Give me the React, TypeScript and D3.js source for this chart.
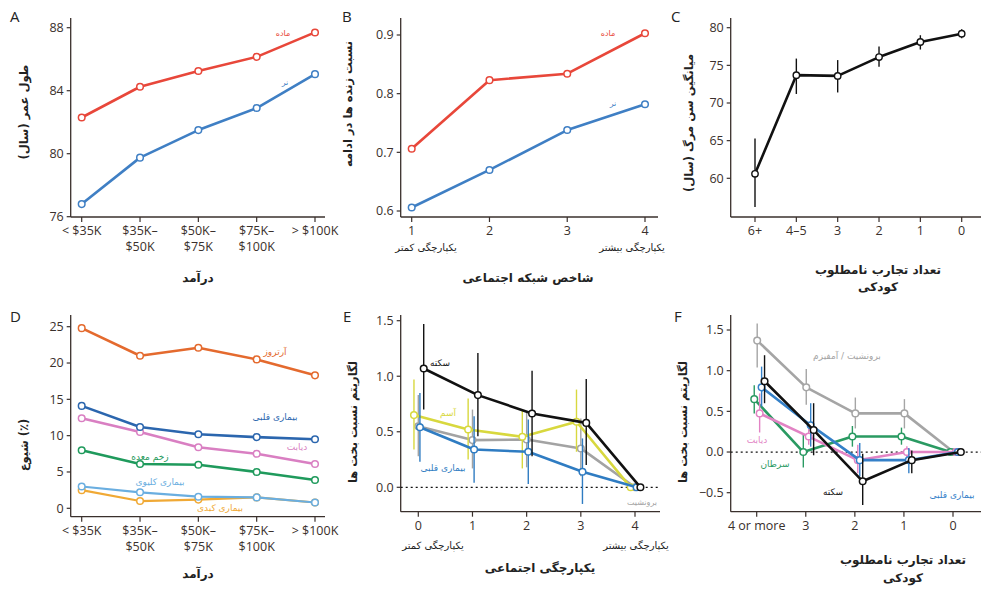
import React from 'react';
import * as d3 from 'd3';

// ---------- DATA ----------
const incomeLabels = [["< $35K"], ["$35K–", "$50K"], ["$50K–", "$75K"], ["$75K–", "$100K"], ["> $100K"]];
const lifeFemale = [82.3, 84.25, 85.25, 86.15, 87.7];
const lifeMale = [76.8, 79.75, 81.5, 82.9, 85.05];

const networkTicks = ["1", "2", "3", "4"];
const survFemale = [0.706, 0.823, 0.834, 0.903];
const survMale = [0.606, 0.670, 0.738, 0.782];

const aceLabelsC = ["6+", "4–5", "3", "2", "1", "0"];
const ageDeath = [60.6, 73.7, 73.6, 76.1, 78.1, 79.2];
const ageLo = [56.2, 71.2, 71.4, 74.8, 77.1, 78.6];
const ageHi = [65.3, 75.9, 75.7, 77.5, 79.0, 79.8];

const prevArthritis = [24.8, 21.0, 22.1, 20.5, 18.3];
const prevHeart = [14.1, 11.2, 10.2, 9.8, 9.5];
const prevDiabetes = [12.4, 10.5, 8.4, 7.5, 6.1];
const prevUlcer = [8.0, 6.1, 6.0, 5.0, 3.9];
const prevKidney = [3.0, 2.2, 1.6, 1.5, 0.8];
const prevLiver = [2.5, 1.0, 1.2, 1.5, 0.8];

const integrationTicks = ["0", "1", "2", "3", "4"];
const eStroke = [1.07, 0.83, 0.665, 0.58, 0];
const eStrokeLo = [0.70, 0.46, 0.28, 0.20];
const eStrokeHi = [1.47, 1.21, 1.05, 0.975];
const eAsthma = [0.65, 0.52, 0.455, 0.59, 0];
const eAsthmaLo = [0.34, 0.25, 0.17, 0.32];
const eAsthmaHi = [0.97, 0.80, 0.70, 0.88];
const eBronch = [0.55, 0.425, 0.43, 0.35, 0];
const eBronchLo = [0.28, 0.17, 0.18, 0.10];
const eBronchHi = [0.83, 0.70, 0.68, 0.62];
const eHeart = [0.54, 0.34, 0.32, 0.14, 0];
const eHeartLo = [0.23, 0.04, 0.03, -0.15];
const eHeartHi = [0.85, 0.64, 0.61, 0.44];

const aceLabelsF = ["4 or more", "3", "2", "1", "0"];
const fBronch = [1.37, 0.795, 0.475, 0.475, 0];
const fBronchLo = [1.04, 0.58, 0.29, 0.29];
const fBronchHi = [1.58, 1.02, 0.67, 0.65];
const fCancer = [0.65, 0.0, 0.19, 0.19, 0];
const fCancerLo = [0.475, -0.19, 0.066, 0.09];
const fCancerHi = [0.82, 0.22, 0.32, 0.30];
const fDiabetes = [0.475, 0.19, -0.1, 0.0, 0];
const fDiabetesLo = [0.24, 0.09, -0.26, -0.08];
const fDiabetesHi = [0.72, 0.29, 0.09, 0.07];
const fHeart = [0.795, 0.33, -0.1, -0.1, 0];
const fHeartLo = [0.56, 0.066, -0.3, -0.26];
const fHeartHi = [1.05, 0.60, 0.11, 0.05];
const fStroke = [0.87, 0.27, -0.36, -0.1, 0];
const fStrokeLo = [0.60, -0.04, -0.65, -0.26];
const fStrokeHi = [1.19, 0.60, -0.02, 0.02];

// ---------- STYLE ----------
const AX = '#3a302c';
const NUM_FONT = "'Open Sans', 'Liberation Sans', sans-serif";
const FA_FONT = "'DejaVu Sans', sans-serif";

type Ser = { y: number[]; lo?: number[]; hi?: number[]; color: string; dx?: number; lw?: number; ew?: number };

function YAxis({ scale, ticks, x, top, bottom, fmt }: any) {
  return (
    <g>
      <line x1={x} x2={x} y1={top} y2={bottom} stroke={AX} strokeWidth={1.3} />
      {ticks.map((t: number) => (
        <g key={t}>
          <line x1={x - 4} x2={x} y1={scale(t)} y2={scale(t)} stroke={AX} strokeWidth={1.2} />
          <text x={x - 7} y={scale(t) + 4.3} textAnchor="end" fontSize={12.5} fontFamily={NUM_FONT} fill={AX}>{fmt(t)}</text>
        </g>
      ))}
    </g>
  );
}

function XAxis({ scale, labels, y, left, right }: any) {
  return (
    <g>
      <line x1={left} x2={right} y1={y} y2={y} stroke={AX} strokeWidth={1.3} />
      {labels.map((lab: string[] | string, i: number) => {
        const lines = Array.isArray(lab) ? lab : [lab];
        return (
          <g key={i}>
            <line x1={scale(i)} x2={scale(i)} y1={y} y2={y + 5} stroke={AX} strokeWidth={1.2} />
            {lines.map((s, k) => (
              <text key={k} x={scale(i)} y={y + 18 + k * 16} textAnchor="middle" fontSize={12.5} fontFamily={NUM_FONT} fill={AX}>{s}</text>
            ))}
          </g>
        );
      })}
    </g>
  );
}

function Series({ s, xs, ys }: { s: Ser; xs: any; ys: any }) {
  const dx = s.dx || 0;
  const line = d3.line<number>().x((_, i) => xs(i + dx)).y(d => ys(d));
  return (
    <g>
      {s.lo && s.hi && s.lo.map((lo, i) => (
        <line key={'e' + i} x1={xs(i + dx)} x2={xs(i + dx)} y1={ys(lo)} y2={ys(s.hi![i])} stroke={s.color} strokeWidth={s.ew || 1.4} />
      ))}
      <path d={line(s.y) || ''} fill="none" stroke={s.color} strokeWidth={s.lw || 2.6} strokeLinejoin="round" />
      {s.y.map((v, i) => (
        <circle key={i} cx={xs(i + dx)} cy={ys(v)} r={3.3} fill="#fff" stroke={s.color} strokeWidth={1.5} />
      ))}
    </g>
  );
}

function Label({ x, y, text, color, size = 9 }: any) {
  return <text x={x} y={y} textAnchor="middle" fontSize={size} fontFamily={FA_FONT} fill={color}>{text}</text>;
}

function Title({ x, y, text, size = 12 }: any) {
  return <text x={x} y={y} textAnchor="middle" fontSize={size} fontWeight="bold" fontFamily={FA_FONT} fill="#222">{text}</text>;
}

function YTitle({ x, y, text }: any) {
  return <text transform={`translate(${x},${y}) rotate(-90)`} textAnchor="middle" fontSize={11.5} fontWeight="bold" fontFamily={FA_FONT} fill="#222">{text}</text>;
}

function Letter({ x, y, t }: any) {
  return <text x={x} y={y} fontSize={15} fontFamily={NUM_FONT} fill="#222">{t}</text>;
}

export default function App() {
  // Panel A
  const xA = d3.scaleLinear().domain([0, 4]).range([81.7, 315]);
  const yA = d3.scaleLinear().domain([76, 88]).range([216.7, 27.7]);
  // Panel B
  const xB = d3.scaleLinear().domain([0, 3]).range([411.7, 645]);
  const yB = d3.scaleLinear().domain([0.6, 0.9]).range([211, 35]);
  // Panel C
  const xC = d3.scaleLinear().domain([0, 5]).range([755, 961.7]);
  const yC = d3.scaleLinear().domain([60, 80]).range([178.3, 27.7]);
  // Panel D
  const xD = d3.scaleLinear().domain([0, 4]).range([81.7, 315]);
  const yD = d3.scaleLinear().domain([0, 25]).range([508.3, 326.7]);
  // Panel E
  const xE = d3.scaleLinear().domain([0, 4]).range([418.3, 635]);
  const yE = d3.scaleLinear().domain([0, 1.5]).range([487.3, 320.7]);
  // Panel F
  const xF = d3.scaleLinear().domain([0, 4]).range([756.7, 953]);
  const yF = d3.scaleLinear().domain([-0.5, 1.5]).range([492.7, 330]);

  const RED = '#e8473a', BLUE = '#3f7fc4';

  const dSeries: Ser[] = [
    { y: prevArthritis, color: '#e46a2e' },
    { y: prevLiver, color: '#f0a935', lw: 2.2 },
    { y: prevKidney, color: '#6aaee0', lw: 2.2 },
    { y: prevUlcer, color: '#1f9a5c' },
    { y: prevDiabetes, color: '#d97fc2' },
    { y: prevHeart, color: '#2b66ae' },
  ];

  const eSeries: Ser[] = [
    { y: eBronch, lo: eBronchLo, hi: eBronchHi, color: '#a3a3a3', dx: 0 },
    { y: eAsthma, lo: eAsthmaLo, hi: eAsthmaHi, color: '#d8d83e', dx: -0.08 },
    { y: eHeart, lo: eHeartLo, hi: eHeartHi, color: '#2f7cc2', dx: 0.03 },
    { y: eStroke, lo: eStrokeLo, hi: eStrokeHi, color: '#111', dx: 0.1 },
  ];

  const fSeries: Ser[] = [
    { y: fBronch, lo: fBronchLo, hi: fBronchHi, color: '#a5a5a5', dx: 0.01 },
    { y: fCancer, lo: fCancerLo, hi: fCancerHi, color: '#2a9a62', dx: -0.05 },
    { y: fDiabetes, lo: fDiabetesLo, hi: fDiabetesHi, color: '#e283c4', dx: 0.06 },
    { y: fHeart, lo: fHeartLo, hi: fHeartHi, color: '#3480c8', dx: 0.1 },
    { y: fStroke, lo: fStrokeLo, hi: fStrokeHi, color: '#111', dx: 0.16 },
  ];

  const lineC = d3.line<number>().x((_, i) => xC(i)).y(d => yC(d));

  return (
    <svg width={981} height={592} style={{ position: 'absolute', left: 0, top: 0, background: '#fff' }}>
      <rect width={981} height={592} fill="#fff" />

      {/* Panel A */}
      <Letter x={10} y={22} t="A" />
      <YAxis scale={yA} ticks={[76, 80, 84, 88]} x={70.7} top={18} bottom={217} fmt={(d: number) => d} />
      <XAxis scale={xA} labels={incomeLabels} y={217} left={70.7} right={325} />
      <Series s={{ y: lifeFemale, color: RED }} xs={xA} ys={yA} />
      <Series s={{ y: lifeMale, color: BLUE }} xs={xA} ys={yA} />
      <Label x={283} y={36} text="ماده" color={RED} size={8} />
      <Label x={285} y={85} text="نر" color={BLUE} size={8} />
      <YTitle x={28} y={112} text="طول عمر (سال)" />
      <Title x={198} y={282} text="درآمد" />

      {/* Panel B */}
      <Letter x={342} y={22} t="B" />
      <YAxis scale={yB} ticks={[0.6, 0.7, 0.8, 0.9]} x={400.7} top={18} bottom={217} fmt={d3.format('.1f')} />
      <XAxis scale={xB} labels={networkTicks} y={217} left={400.7} right={658} />
      <Series s={{ y: survFemale, color: RED }} xs={xB} ys={yB} />
      <Series s={{ y: survMale, color: BLUE }} xs={xB} ys={yB} />
      <Label x={608} y={36} text="ماده" color={RED} size={8} />
      <Label x={613} y={106} text="نر" color={BLUE} size={8} />
      <text x={426} y={251} textAnchor="middle" fontSize={10} fontFamily={FA_FONT} fill="#222">یکپارچگی کمتر</text>
      <text x={632} y={251} textAnchor="middle" fontSize={10} fontFamily={FA_FONT} fill="#222">یکپارچگی بیشتر</text>
      <YTitle x={352} y={104} text="نسبت زنده ها در ادامه" />
      <Title x={528} y={282} text="شاخص شبکه اجتماعی" />

      {/* Panel C */}
      <Letter x={671} y={22} t="C" />
      <YAxis scale={yC} ticks={[60, 65, 70, 75, 80]} x={730.7} top={18} bottom={217} fmt={(d: number) => d} />
      <XAxis scale={xC} labels={aceLabelsC} y={217} left={730.7} right={981} />
      {ageLo.map((lo, i) => (
        <line key={i} x1={xC(i)} x2={xC(i)} y1={yC(lo)} y2={yC(ageHi[i])} stroke="#111" strokeWidth={1.4} />
      ))}
      <path d={lineC(ageDeath) || ''} fill="none" stroke="#111" strokeWidth={2.6} strokeLinejoin="round" />
      {ageDeath.map((v, i) => (
        <circle key={i} cx={xC(i)} cy={yC(v)} r={3.2} fill="#fff" stroke="#111" strokeWidth={1.4} />
      ))}
      <YTitle x={693} y={123} text="میانگین سن مرگ (سال)" />
      <Title x={878} y={274} text="تعداد تجارب نامطلوب" />
      <Title x={878} y={291} text="کودکی" />

      {/* Panel D */}
      <Letter x={10} y={322} t="D" />
      <YAxis scale={yD} ticks={[0, 5, 10, 15, 20, 25]} x={70.7} top={315} bottom={516.7} fmt={(d: number) => d} />
      <XAxis scale={xD} labels={incomeLabels} y={516.7} left={70.7} right={325} />
      {dSeries.map((s, i) => <Series key={i} s={s} xs={xD} ys={yD} />)}
      <Label x={275} y={355} text="آرتروز" color="#e46a2e" />
      <Label x={275} y={420} text="بیماری قلبی" color="#2b66ae" />
      <Label x={297} y={450} text="دیابت" color="#d97fc2" />
      <Label x={150} y={460} text="زخم معده" color="#1f9a5c" />
      <Label x={160} y={485} text="بیماری کلیوی" color="#6aaee0" />
      <Label x={220} y={511} text="بیماری کبدی" color="#f0a935" />
      <YTitle x={28} y={445} text="شیوع (٪)" />
      <Title x={198} y={578} text="درآمد" />

      {/* Panel E */}
      <Letter x={343} y={322} t="E" />
      <YAxis scale={yE} ticks={[0, 0.5, 1.0, 1.5]} x={400.7} top={315} bottom={511.7} fmt={d3.format('.1f')} />
      <XAxis scale={xE} labels={integrationTicks} y={511.7} left={400.7} right={660} />
      <line x1={400.7} x2={660} y1={yE(0)} y2={yE(0)} stroke="#111" strokeWidth={1.3} strokeDasharray="2,3" />
      {eSeries.map((s, i) => <Series key={i} s={s} xs={xE} ys={yE} />)}
      <Label x={440} y={366} text="سکته" color="#111" />
      <Label x={448} y={416} text="آسم" color="#d8d83e" />
      <Label x={443} y={471} text="بیماری قلبی" color="#2f7cc2" />
      <Label x={642} y={505} text="برونشیت" color="#a3a3a3" size={8} />
      <text x={433} y={549} textAnchor="middle" fontSize={10} fontFamily={FA_FONT} fill="#222">یکپارچگی کمتر</text>
      <text x={636} y={549} textAnchor="middle" fontSize={10} fontFamily={FA_FONT} fill="#222">یکپارچگی بیشتر</text>
      <YTitle x={357} y={422} text="لگاریتم نسبت بخت ها" />
      <Title x={540} y={572} text="یکپارچگی اجتماعی" />

      {/* Panel F */}
      <Letter x={674} y={322} t="F" />
      <YAxis scale={yF} ticks={[-0.5, 0, 0.5, 1.0, 1.5]} x={730.7} top={315} bottom={511.7} fmt={(d: number) => (d < 0 ? '−' + d3.format('.1f')(-d) : d3.format('.1f')(d))} />
      <XAxis scale={xF} labels={aceLabelsF} y={511.7} left={730.7} right={981} />
      <line x1={730.7} x2={981} y1={yF(0)} y2={yF(0)} stroke="#111" strokeWidth={1.3} strokeDasharray="2,3" />
      {fSeries.map((s, i) => <Series key={i} s={s} xs={xF} ys={yF} />)}
      <Label x={847} y={359} text="برونشیت / آمفیزم" color="#a5a5a5" />
      <Label x={757} y={443} text="دیابت" color="#e283c4" />
      <Label x={775} y={467} text="سرطان" color="#2a9a62" />
      <Label x={833} y={495} text="سکته" color="#111" />
      <Label x={952} y={498} text="بیماری قلبی" color="#3480c8" />
      <YTitle x={687} y={422} text="لگاریتم نسبت بخت ها" />
      <Title x={903} y={564} text="تعداد تجارب نامطلوب" />
      <Title x={903} y={582} text="کودکی" />
    </svg>
  );
}
